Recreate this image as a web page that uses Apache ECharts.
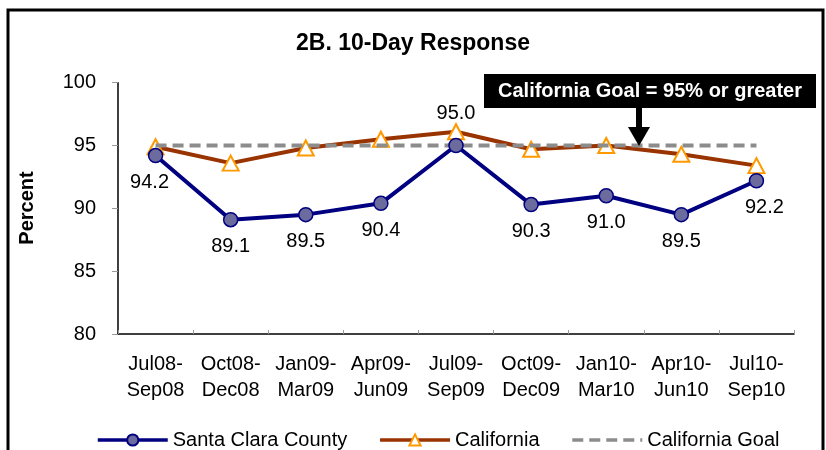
<!DOCTYPE html>
<html>
<head>
<meta charset="utf-8">
<script src="https://cdn.jsdelivr.net/npm/echarts@6/dist/echarts.min.js"></script>
<style>html,body{margin:0;padding:0;background:#fff;}#c{width:826px;height:450px;}</style>
</head>
<body>
<div id="c"></div>
<script>
const categories = ['Jul08-\nSep08','Oct08-\nDec08','Jan09-\nMar09','Apr09-\nJun09','Jul09-\nSep09','Oct09-\nDec09','Jan10-\nMar10','Apr10-\nJun10','Jul10-\nSep10'];
const santaClara = [94.2, 89.1, 89.5, 90.4, 95.0, 90.3, 91.0, 89.5, 92.2];
const california = [94.9, 93.6, 94.8, 95.5, 96.1, 94.7, 95.0, 94.3, 93.4];
const californiaGoal = [95, 95, 95, 95, 95, 95, 95, 95, 95];
const yTicks = [80, 85, 90, 95, 100];
const seriesNames = ['Santa Clara County', 'California', 'California Goal'];
const titleText = '2B. 10-Day Response';
const yAxisTitle = 'Percent';
const annotationText = 'California Goal = 95% or greater';

const FONT = 'Arial, "Liberation Sans", sans-serif';
const chart = echarts.init(document.getElementById('c'), null, {renderer: 'canvas'});

const scData = santaClara.map((v, i) => ({
  value: v,
  label: i === 4 ? {position: 'top', distance: 14} : (i === 0 ? {offset: [-6, 0]} : (i === 8 ? {offset: [8, 0]} : {}))
}));

chart.setOption({
  animation: false,
  backgroundColor: '#fff',
  title: {
    text: titleText, left: 'center', top: 27,
    textStyle: {fontFamily: FONT, fontSize: 23, fontWeight: 'bold', color: '#000'}
  },
  legend: {
    left: 91, top: 425, itemWidth: 70, itemHeight: 14, itemGap: 31,
    textStyle: {fontFamily: FONT, fontSize: 20, color: '#000'},
    data: [
      {name: seriesNames[0], lineStyle: {width: 3.5}},
      {name: seriesNames[1], lineStyle: {width: 3.5}},
      {name: seriesNames[2], lineStyle: {width: 3.5}, itemStyle: {opacity: 0}}
    ]
  },
  grid: {left: 118, right: 32, top: 82.7, bottom: 116},
  xAxis: {
    type: 'category', data: categories, boundaryGap: true,
    axisLine: {lineStyle: {color: '#000', width: 1.5}},
    axisTick: {show: true, inside: true, length: 4, lineStyle: {color: '#999'}},
    axisLabel: {fontFamily: FONT, fontSize: 20, color: '#000', lineHeight: 26, margin: 17, interval: 0}
  },
  yAxis: {
    type: 'value', min: yTicks[0], max: yTicks[yTicks.length - 1], interval: yTicks[1] - yTicks[0],
    splitLine: {show: false},
    axisLine: {show: true, lineStyle: {color: '#000', width: 1.5}},
    axisTick: {show: true, length: 6, lineStyle: {color: '#999'}},
    axisLabel: {fontFamily: FONT, fontSize: 20, color: '#000', margin: 22}
  },
  series: [
    {
      name: seriesNames[1], type: 'line', data: california, z: 2,
      symbol: 'triangle', symbolSize: [16, 15],
      lineStyle: {color: '#993300', width: 4},
      itemStyle: {color: '#fff', borderColor: '#FF9900', borderWidth: 2}
    },
    {
      name: seriesNames[2], type: 'line', data: californiaGoal, z: 3,
      symbol: 'none', showSymbol: false,
      lineStyle: {color: '#8c8c8c', width: 4, type: [11, 6]},
      itemStyle: {color: '#8c8c8c'}
    },
    {
      name: seriesNames[0], type: 'line', data: scData, z: 4,
      symbol: 'circle', symbolSize: 14,
      lineStyle: {color: '#000080', width: 4},
      itemStyle: {color: '#6B6B9E', borderColor: '#000080', borderWidth: 1.5},
      label: {show: true, position: 'bottom', distance: 9, fontFamily: FONT, fontSize: 20, color: '#000',
        formatter: p => p.value.toFixed(1)}
    }
  ],
  graphic: [
    {type: 'rect', shape: {x: 8, y: 10, width: 815, height: 460}, style: {fill: 'none', stroke: '#000', lineWidth: 3}, z: 0, silent: true},
    {type: 'text', x: 27, y: 208, rotation: Math.PI / 2,
      style: {text: yAxisTitle, font: 'bold 20px ' + FONT, fill: '#000', align: 'center', verticalAlign: 'middle'}},
    {type: 'rect', shape: {x: 484, y: 74, width: 332, height: 34}, style: {fill: '#000'}, z: 10},
    {type: 'text', x: 650, y: 91, z: 11,
      style: {text: annotationText, font: 'bold 20px ' + FONT, fill: '#fff', align: 'center', verticalAlign: 'middle'}},
    {type: 'rect', shape: {x: 636, y: 107, width: 6, height: 22}, style: {fill: '#000'}, z: 10},
    {type: 'polygon', shape: {points: [[628, 127], [650, 127], [639, 146]]}, style: {fill: '#000'}, z: 10}
  ]
});
</script>
</body>
</html>
